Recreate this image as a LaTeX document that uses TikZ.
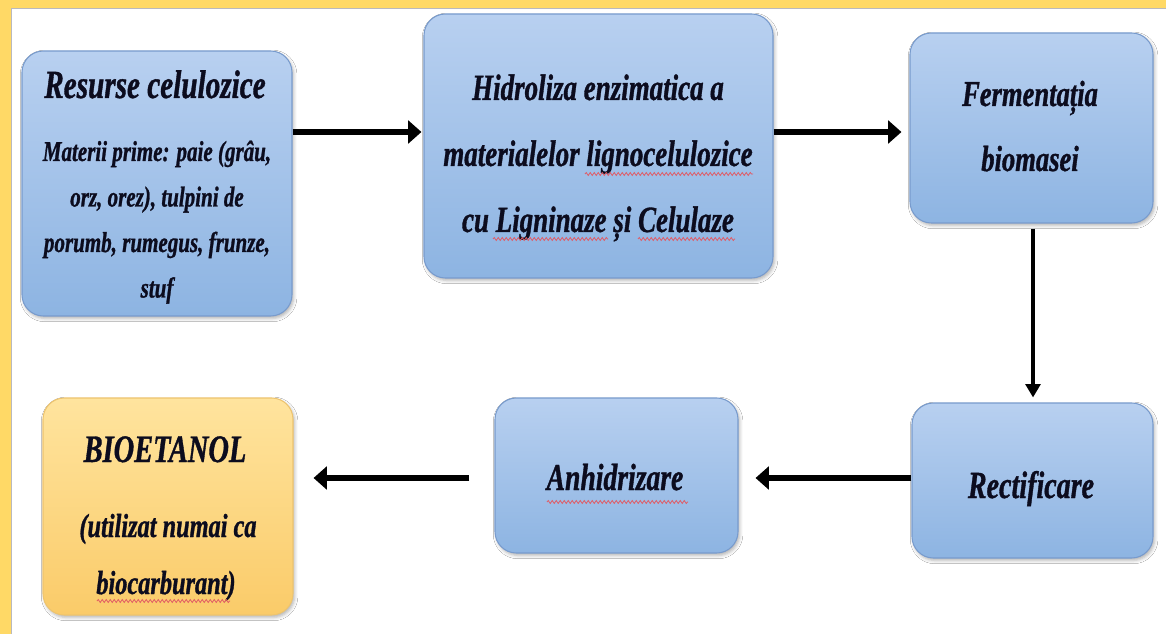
\documentclass[tikz,border=0pt]{standalone}
\usepackage{fontspec}
\newfontfamily\tnr{Liberation Serif}[FakeStretch=0.73, BoldItalicFeatures={FakeBold=0.9}]
\usetikzlibrary{arrows.meta,shadows.blur,decorations.pathmorphing}

\definecolor{frameyellow}{RGB}{255,217,102}
\definecolor{framegray}{RGB}{185,185,190}
\definecolor{bluetop}{RGB}{184,208,240}
\definecolor{bluebot}{RGB}{141,180,226}
\definecolor{blueline}{RGB}{120,155,205}
\definecolor{yeltop}{RGB}{255,228,158}
\definecolor{yelbot}{RGB}{250,203,105}
\definecolor{yelline}{RGB}{238,196,110}
\definecolor{ink}{RGB}{12,12,30}
\definecolor{squigred}{RGB}{225,90,100}

\newcommand{\bi}[1]{\tnr\bfseries\itshape\fontsize{#1}{#1}\selectfont}

\begin{document}
\begin{tikzpicture}[x=0.75pt,y=-0.75pt,
  stage/.style={draw=blueline, line width=0.8pt, rounded corners=16pt,
    top color=bluetop, bottom color=bluebot, inner sep=0pt,
    blur shadow={shadow xshift=1.2pt, shadow yshift=-1.8pt,
      shadow blur radius=2.5pt, shadow opacity=30}},
  product/.style={stage, draw=yelline, top color=yeltop, bottom color=yelbot},
  tx/.style={anchor=base, inner sep=0pt, text=ink},
  big/.style={font=\bi{27.7}},
  flow/.style={line width=4.5pt, -{Triangle[length=10pt,width=17pt]}},
  drop/.style={line width=3pt, -{Triangle[length=10pt,width=11pt]}},
  squig/.style={draw=squigred, line width=0.6pt, decorate,
    decoration={snake, amplitude=1.1pt, segment length=3pt}}
]
\useasboundingbox (0,0) rectangle (1166,634);
\fill[white] (0,0) rectangle (1166,634);

% frame band along the top and left edges
\fill[frameyellow] (0,0) rectangle (1166,8);
\fill[frameyellow] (0,0) rectangle (11,634);
\draw[framegray, line width=1pt] (11.8,634) -- (11.8,8.8) -- (1166,8.8);

% process stages
\node[stage, minimum width=202.5pt, minimum height=198.75pt] (b1) at (157,183.5) {};
\node[stage, minimum width=261.75pt, minimum height=198pt] (b2) at (598.5,146) {};
\node[stage, minimum width=182.25pt, minimum height=142.5pt] (b3) at (1031.5,128) {};
\node[product, minimum width=187.5pt, minimum height=162.75pt] (b4) at (168,506.5) {};
\node[stage, minimum width=182.25pt, minimum height=116.25pt] (b5) at (616.5,475.5) {};
\node[stage, minimum width=180.75pt, minimum height=116.25pt] (b6) at (1032.5,480.5) {};

% stage texts
\node[tx, font=\bi{30}] (t1a) at (155,98) {Resurse celulozice};
\begin{scope}[every node/.style={tx, font=\bi{21.6}}]
  \node (t1b) at (157,161) {Materii prime: paie (grâu,};
  \node (t1c) at (157,206.5) {orz, orez), tulpini de};
  \node (t1d) at (157,252) {porumb, rumegus, frunze,};
  \node (t1e) at (157,297.5) {stuf};
\end{scope}

\node[tx, big] (t2a) at (598,100) {Hidroliza enzimatica a};
\node[tx, big] (t2b) at (598,166) {materialelor lignocelulozice};
\node[tx, big] (t2c) at (598,232) {cu Ligninaze și Celulaze};

\node[tx, font=\bi{27.3}] (t3a) at (1030,106) {Fermentația};
\node[tx, font=\bi{27.3}] (t3b) at (1030,171) {biomasei};

\node[tx, font=\bi{29.2}] (t4a) at (165,462) {BIOETANOL};
\node[tx, font=\bi{25}] (t4b) at (168,537) {(utilizat numai ca};
\node[tx, font=\bi{25}] (t4c) at (166,594) {biocarburant)};

\node[tx, font=\bi{28.4}] (t5) at (615,490) {Anhidrizare};
\node[tx, font=\bi{28.8}] (t6) at (1031,498) {Rectificare};

% wavy marks under some words
\draw[squig] (585,174) -- (753,174);
\draw[squig] (493,239) -- (608,239);
\draw[squig] (638,239) -- (735,239);
\draw[squig] (547,502) -- (688,502);
\draw[squig] (97,601) -- (230,601);

% connectors
\coordinate (rowtop) at (0,132);
\coordinate (rowbot) at (0,478);
\coordinate (col) at (1033,0);
\draw[flow] (b1.east |- rowtop) -- ([xshift=-1.5pt]b2.west |- rowtop);
\draw[flow] (b2.east |- rowtop) -- ([xshift=-6pt]b3.west |- rowtop);
\draw[drop] ([yshift=-3.75pt]b3.south -| col) -- ([yshift=3.75pt]b6.north -| col);
\draw[flow] (b6.west |- rowbot) -- ([xshift=12.75pt]b5.east |- rowbot);
\draw[flow] ([xshift=-18.75pt]b5.west |- rowbot) -- ([xshift=15pt]b4.east |- rowbot);
\end{tikzpicture}
\end{document}
